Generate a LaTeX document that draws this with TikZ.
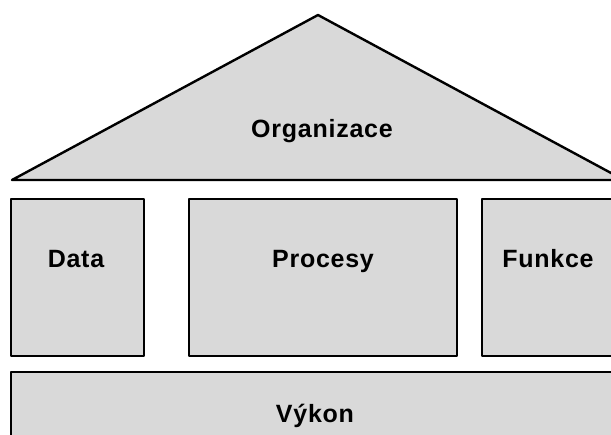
\documentclass[tikz,border=0pt]{standalone}
\usepackage{fontspec}
\setmainfont{Liberation Sans}[LetterSpace=3]
\begin{document}
\begin{tikzpicture}[x=1pt,y=-1pt,
  block/.style={draw=black,fill=gray!30!white,line width=2.4pt,line join=round},
  lbl/.style={font=\fontsize{25}{30}\selectfont\bfseries,inner sep=0pt,anchor=base}]
\useasboundingbox (0,0) rectangle (611,435);
\begin{scope}
\clip (0,0) rectangle (611,435);
% roof
\draw[block] (12,180) -- (318,15) -- (624,180) -- cycle;
% pillars
\draw[block] (11,199) rectangle (144,356);
\draw[block] (189,199) rectangle (457,356);
\draw[block] (482,199) rectangle (640,356);
% foundation
\draw[block] (11,372) rectangle (640,460);
\end{scope}
\node[lbl] (org) at (322,138) {Organizace};
\node[lbl] (data) at (76,268) {Data};
\node[lbl] (proc) at (323,268) {Procesy};
\node[lbl] (funk) at (548,268) {Funkce};
\node[lbl] (vykon) at (315,423) {Výkon};
\end{tikzpicture}
\end{document}
